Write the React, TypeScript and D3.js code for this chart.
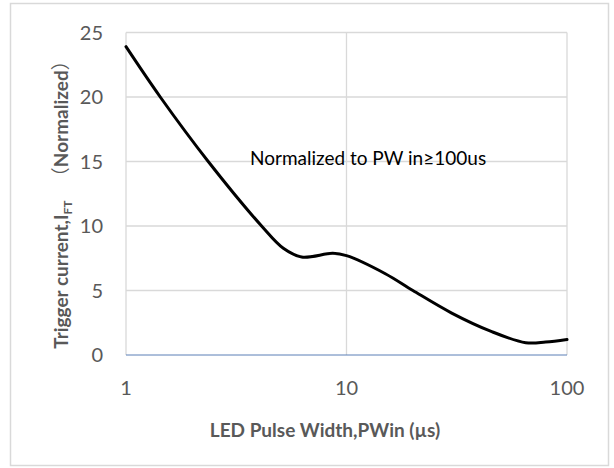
import React from "react";
import * as d3 from "d3";

// Pulse width (µs) and normalized trigger current
const pulseWidth = [1, 1.43, 2.36, 4.12, 5.17, 6.26, 8.67, 10, 15, 20, 30, 45, 65, 80, 100];
const triggerCurrent = [23.9, 20, 15, 10, 8.27, 7.6, 7.88, 7.7, 6.3, 5.0, 3.25, 1.85, 0.95, 1.0, 1.2];

const xTicks = [1, 10, 100];
const yTicks = [0, 5, 10, 15, 20, 25];

const W = 614;
const H = 468;
const plot = { left: 126, right: 567, top: 32.5, bottom: 355 };
const FONT = "Lato, 'Open Sans', sans-serif";
const CJK = "'Noto Sans CJK SC', sans-serif";
const GREY = "#595959";
const GRID = "#d9d9d9";

export default function App() {
  const x = d3.scaleLog().domain([1, 100]).range([plot.left, plot.right]);
  const y = d3.scaleLinear().domain([0, 25]).range([plot.bottom, plot.top]);

  const points = pulseWidth.map((p, i) => [p, triggerCurrent[i]] as [number, number]);
  const line = d3
    .line<[number, number]>()
    .x((d) => x(d[0]))
    .y((d) => y(d[1]))
    .curve(d3.curveCatmullRom.alpha(0.5));

  return (
    <svg
      width={W}
      height={H}
      style={{ position: "absolute", left: 0, top: 0, background: "#fff" }}
    >
      <rect x={10.5} y={3.5} width={598} height={462} fill="#fff" stroke={GRID} strokeWidth={1.5} />

      {/* horizontal gridlines */}
      {yTicks.slice(1).map((t) => (
        <line key={"gy" + t} x1={plot.left} x2={plot.right} y1={y(t)} y2={y(t)} stroke={GRID} strokeWidth={1.3} />
      ))}
      {/* vertical gridlines */}
      {xTicks.map((t) => (
        <line key={"gx" + t} x1={x(t)} x2={x(t)} y1={plot.top} y2={plot.bottom} stroke={GRID} strokeWidth={1.3} />
      ))}
      {/* x axis line */}
      <line x1={plot.left} x2={plot.right} y1={plot.bottom} y2={plot.bottom} stroke="#5b7fb6" strokeWidth={1} />

      {/* y tick labels */}
      {yTicks.map((t) => (
        <text
          key={"ty" + t}
          x={103}
          y={y(t)}
          dy="0.36em"
          textAnchor="end"
          fontFamily={FONT}
          fontSize={20}
          fill={GREY}
        >
          {t}
        </text>
      ))}
      {/* x tick labels */}
      {xTicks.map((t) => (
        <text
          key={"tx" + t}
          x={x(t)}
          y={388}
          dy="0.36em"
          textAnchor="middle"
          fontFamily={FONT}
          fontSize={20}
          fill={GREY}
        >
          {t}
        </text>
      ))}

      {/* curve */}
      <path d={line(points) ?? ""} fill="none" stroke="#000" strokeWidth={3} strokeLinejoin="round" strokeLinecap="round" />

      {/* annotation */}
      <text x={250} y={158} dy="0.36em" fontFamily={FONT} fontSize={19} fill="#000">
        Normalized to PW in≥100us
      </text>

      {/* x axis title */}
      <text
        x={325}
        y={430}
        dy="0.36em"
        textAnchor="middle"
        fontFamily={FONT}
        fontSize={19}
        fontWeight="bold"
        fill={GREY}
      >
        LED Pulse Width,PWin (µs)
      </text>

      {/* y axis title */}
      <text
        transform={`translate(61.5, 200) rotate(-90)`}
        textAnchor="middle"
        dy="0.36em"
        fontFamily={FONT}
        fontSize={19}
        fontWeight="bold"
        fill={GREY}
      >
        Trigger current,I
        <tspan fontSize={12} dy="4">FT</tspan>
        <tspan dy="-4" dx="10" fontFamily={CJK} fontWeight="normal">{" （"}</tspan>
        <tspan>Normalized</tspan>
        <tspan fontFamily={CJK} fontWeight="normal">）</tspan>
      </text>
    </svg>
  );
}
